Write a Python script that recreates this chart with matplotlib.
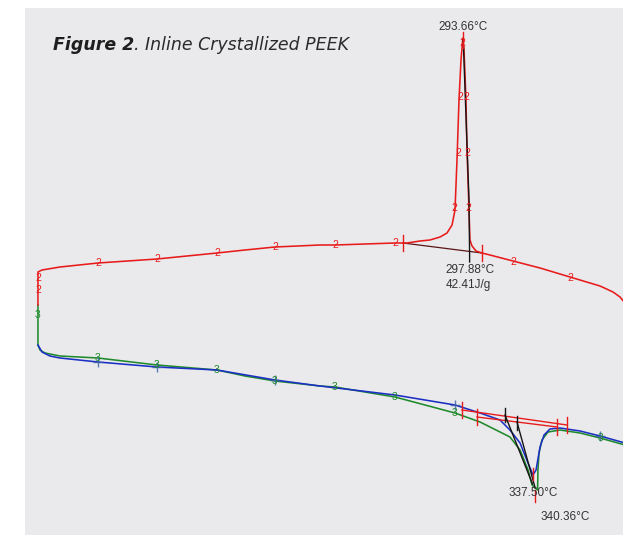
import matplotlib
matplotlib.use("Agg")
import matplotlib.pyplot as plt
import numpy as np

# ---------------- data ----------------
# Cycle 2: cooling scan (temperature in degC, heat flow in W/g, exo up)
cool_T = [395.0, 391.9, 387.5, 379.4, 360.6, 341.9, 325.0, 310.6, 305.6, 301.9,
          299.4, 298.1, 297.5, 296.25, 295.6, 294.4, 293.66, 292.5, 291.25, 290.0,
          288.75, 286.9, 283.75, 279.4, 273.1, 266.9, 258.75, 251.25, 213.75, 204.4,
          176.25, 157.5, 140.0, 102.5, 65.6, 41.9, 30.6, 28.1, 28.1]
cool_HF = [-0.03, 0.03, 0.08, 0.14, 0.23, 0.32, 0.39, 0.45, 0.47, 0.49,
           0.54, 0.60, 0.90, 1.50, 2.00, 2.50, 2.62, 2.40, 2.00, 1.40,
           0.90, 0.75, 0.67, 0.63, 0.60, 0.59, 0.57, 0.57, 0.55, 0.55,
           0.53, 0.50, 0.47, 0.41, 0.37, 0.33, 0.30, 0.28, -0.05]

# Cycle 3: reheating scan
heat3_T = [28.1, 28.1, 29.4, 32.5, 41.9, 65.6, 102.5, 140.0, 157.5, 176.25,
           204.4, 213.75, 251.25, 288.75, 304.4, 316.9, 323.1, 329.4, 334.4, 336.9,
           340.36, 340.6, 341.25, 343.1, 346.9, 354.4, 366.9, 379.4, 395.0]
heat3_HF = [-0.05, -0.45, -0.50, -0.53, -0.56, -0.58, -0.65, -0.70, -0.76, -0.81,
            -0.86, -0.87, -0.97, -1.13, -1.22, -1.32, -1.37, -1.50, -1.70, -1.85,
            -1.90, -1.70, -1.53, -1.40, -1.32, -1.30, -1.33, -1.38, -1.45]

# Cycle 1: first heating scan
heat1_T = [28.1, 30.6, 35.6, 41.9, 65.6, 102.5, 140.0, 176.25, 204.4, 251.25,
           288.75, 304.4, 316.9, 323.1, 329.4, 334.4, 337.50, 339.4, 341.9, 344.4,
           348.1, 354.4, 366.9, 379.4, 395.0]
heat1_HF = [-0.45, -0.52, -0.56, -0.58, -0.62, -0.67, -0.70, -0.80, -0.86, -0.95,
            -1.05, -1.13, -1.20, -1.30, -1.43, -1.63, -1.75, -1.70, -1.47, -1.35,
            -1.29, -1.28, -1.31, -1.36, -1.43]

# Peak analysis results
cryst_peak_T, cryst_peak_HF = 293.66, 2.62
cryst_onset_T = 297.88
cryst_enthalpy = 42.41
melt1_peak_T, melt1_peak_HF = 337.50, -1.75
melt3_peak_T, melt3_peak_HF = 340.36, -1.90

# Integration baselines (start T, start HF, end T, end HF)
cryst_base = (256.25, 0.57, 305.6, 0.47)
melt_base_a = (293.1, -1.10, 358.75, -1.25)
melt_base_b = (302.5, -1.17, 352.5, -1.27)

# Curve number markers along each scan
lab2_T = [28.1, 28.1, 65.6, 102.5, 140.0, 176.25, 213.75, 251.25, 288.3, 290.6,
          292.0, 293.66, 297.1, 296.6, 295.9, 325.0, 360.6]
lab2_HF = [0.22, 0.10, 0.37, 0.41, 0.47, 0.53, 0.55, 0.57, 0.92, 1.47,
           2.03, 2.57, 0.92, 1.47, 2.03, 0.38, 0.22]
lab3_T = [28.1, 65.6, 102.5, 140.0, 176.25, 213.75, 251.25, 288.75, 379.4]
lab3_HF = [-0.15, -0.58, -0.65, -0.70, -0.81, -0.87, -0.97, -1.13, -1.38]
mark1_T = [65.6, 102.5, 176.25, 288.75, 379.4]
mark1_HF = [-0.62, -0.67, -0.80, -1.05, -1.36]

# ---------------- figure ----------------
RED = "#e81b1b"
GREEN = "#1f8a2c"
BLUE = "#1c2fc4"
BLACK = "#151515"
TXT = "#333333"

fig = plt.figure(figsize=(6.25, 5.38), dpi=100)
fig.patch.set_facecolor("white")
ax = fig.add_axes([25 / 625, 3 / 538, 598 / 625, 527 / 538])
ax.set_facecolor("#eaeaed")
for s in ax.spines.values():
    s.set_visible(False)
ax.set_xticks([])
ax.set_yticks([])
ax.set_xlim(20, 393.75)
ax.set_ylim(-2.35, 2.92)

lw = 1.15
ax.plot(heat3_T, heat3_HF, color=GREEN, lw=lw, zorder=3)
ax.plot(heat1_T, heat1_HF, color=BLUE, lw=lw, zorder=3)
ax.plot(cool_T, cool_HF, color=RED, lw=lw, zorder=4)

# crystallisation analysis lines
ax.plot([cryst_base[0], cryst_base[2]], [cryst_base[1], cryst_base[3]],
        color="#5a1515", lw=0.9, zorder=3)
ax.plot([293.9, 297.5, cryst_onset_T, cryst_onset_T], [2.60, 1.0, 0.45, 0.38],
        color=BLACK, lw=1.0, zorder=5)
tick = 0.08
for T, H in [(cryst_base[0], cryst_base[1]), (cryst_base[2], cryst_base[3]),
             (cryst_peak_T, cryst_peak_HF - 0.02)]:
    ax.plot([T, T], [H - tick, H + tick], color=RED, lw=1.0, zorder=6)

# melting analysis lines
for b in (melt_base_a, melt_base_b):
    ax.plot([b[0], b[2]], [b[1], b[3]], color=RED, lw=1.0, zorder=5)
    for T, H in [(b[0], b[1]), (b[2], b[3])]:
        ax.plot([T, T], [H - tick, H + tick], color=RED, lw=1.0, zorder=6)
ax.plot([320.0, 320.0], [-1.08, -1.22], color=BLACK, lw=1.0, zorder=5)
ax.plot([327.5, 327.5], [-1.16, -1.30], color=BLACK, lw=1.0, zorder=5)
ax.plot([320.0, melt1_peak_T - 0.3], [-1.15, -1.84], color=BLACK, lw=1.0, zorder=5)
ax.plot([327.5, melt3_peak_T - 1.5], [-1.22, -1.88], color=BLACK, lw=1.0, zorder=5)
ax.plot([melt1_peak_T] * 2, [melt1_peak_HF + 0.07, melt1_peak_HF - 0.05],
        color=RED, lw=1.0, zorder=6)
ax.plot([melt3_peak_T - 1.5] * 2, [melt3_peak_HF, melt3_peak_HF - 0.12],
        color=RED, lw=1.0, zorder=6)

# curve number markers
ax.plot(mark1_T, mark1_HF, ls="none", marker="+", ms=7, mew=1.0,
        color="#3a5fa8", alpha=0.8, zorder=6)
for T, H in zip(lab3_T, lab3_HF):
    ax.text(T, H, "3", color=GREEN, fontsize=7.5, ha="center", va="center",
            family="Liberation Sans", zorder=7)
for T, H in zip(lab2_T, lab2_HF):
    ax.text(T, H, "2", color=RED, fontsize=7.5, ha="center", va="center",
            family="Liberation Sans", zorder=7)

# annotations
fs = 8.5
ax.text(cryst_peak_T, 2.73, f"{cryst_peak_T:.2f}°C", color=TXT, fontsize=fs,
        ha="center", va="center", family="Liberation Sans")
ax.text(cryst_onset_T, 0.30, f"{cryst_onset_T:.2f}°C", color=TXT, fontsize=fs,
        ha="center", va="center", family="Liberation Sans")
ax.text(cryst_onset_T - 0.6, 0.15, f"{cryst_enthalpy:.2f}J/g", color=TXT,
        fontsize=fs, ha="center", va="center", family="Liberation Sans")
ax.text(melt1_peak_T, -1.93, f"{melt1_peak_T:.2f}°C", color=TXT, fontsize=fs,
        ha="center", va="center", family="Liberation Sans", zorder=8)
ax.text(melt3_peak_T + 17.5, -2.17, f"{melt3_peak_T:.2f}°C", color=TXT,
        fontsize=fs, ha="center", va="center", family="Liberation Sans")

# title
t1 = fig.text(53 / 625, 1 - 45 / 538, "Figure 2", fontsize=12.5, color="#1e1e1e",
              family="DejaVu Sans", style="oblique", weight="bold", va="center")
fig.canvas.draw()
bb = t1.get_window_extent()
fig.text(bb.x1 / 625, 1 - 45 / 538, ". Inline Crystallized PEEK", fontsize=12.5,
         color="#2a2a2a", family="DejaVu Sans", style="oblique", va="center")

fig.savefig("out.png", dpi=100, facecolor="white")
